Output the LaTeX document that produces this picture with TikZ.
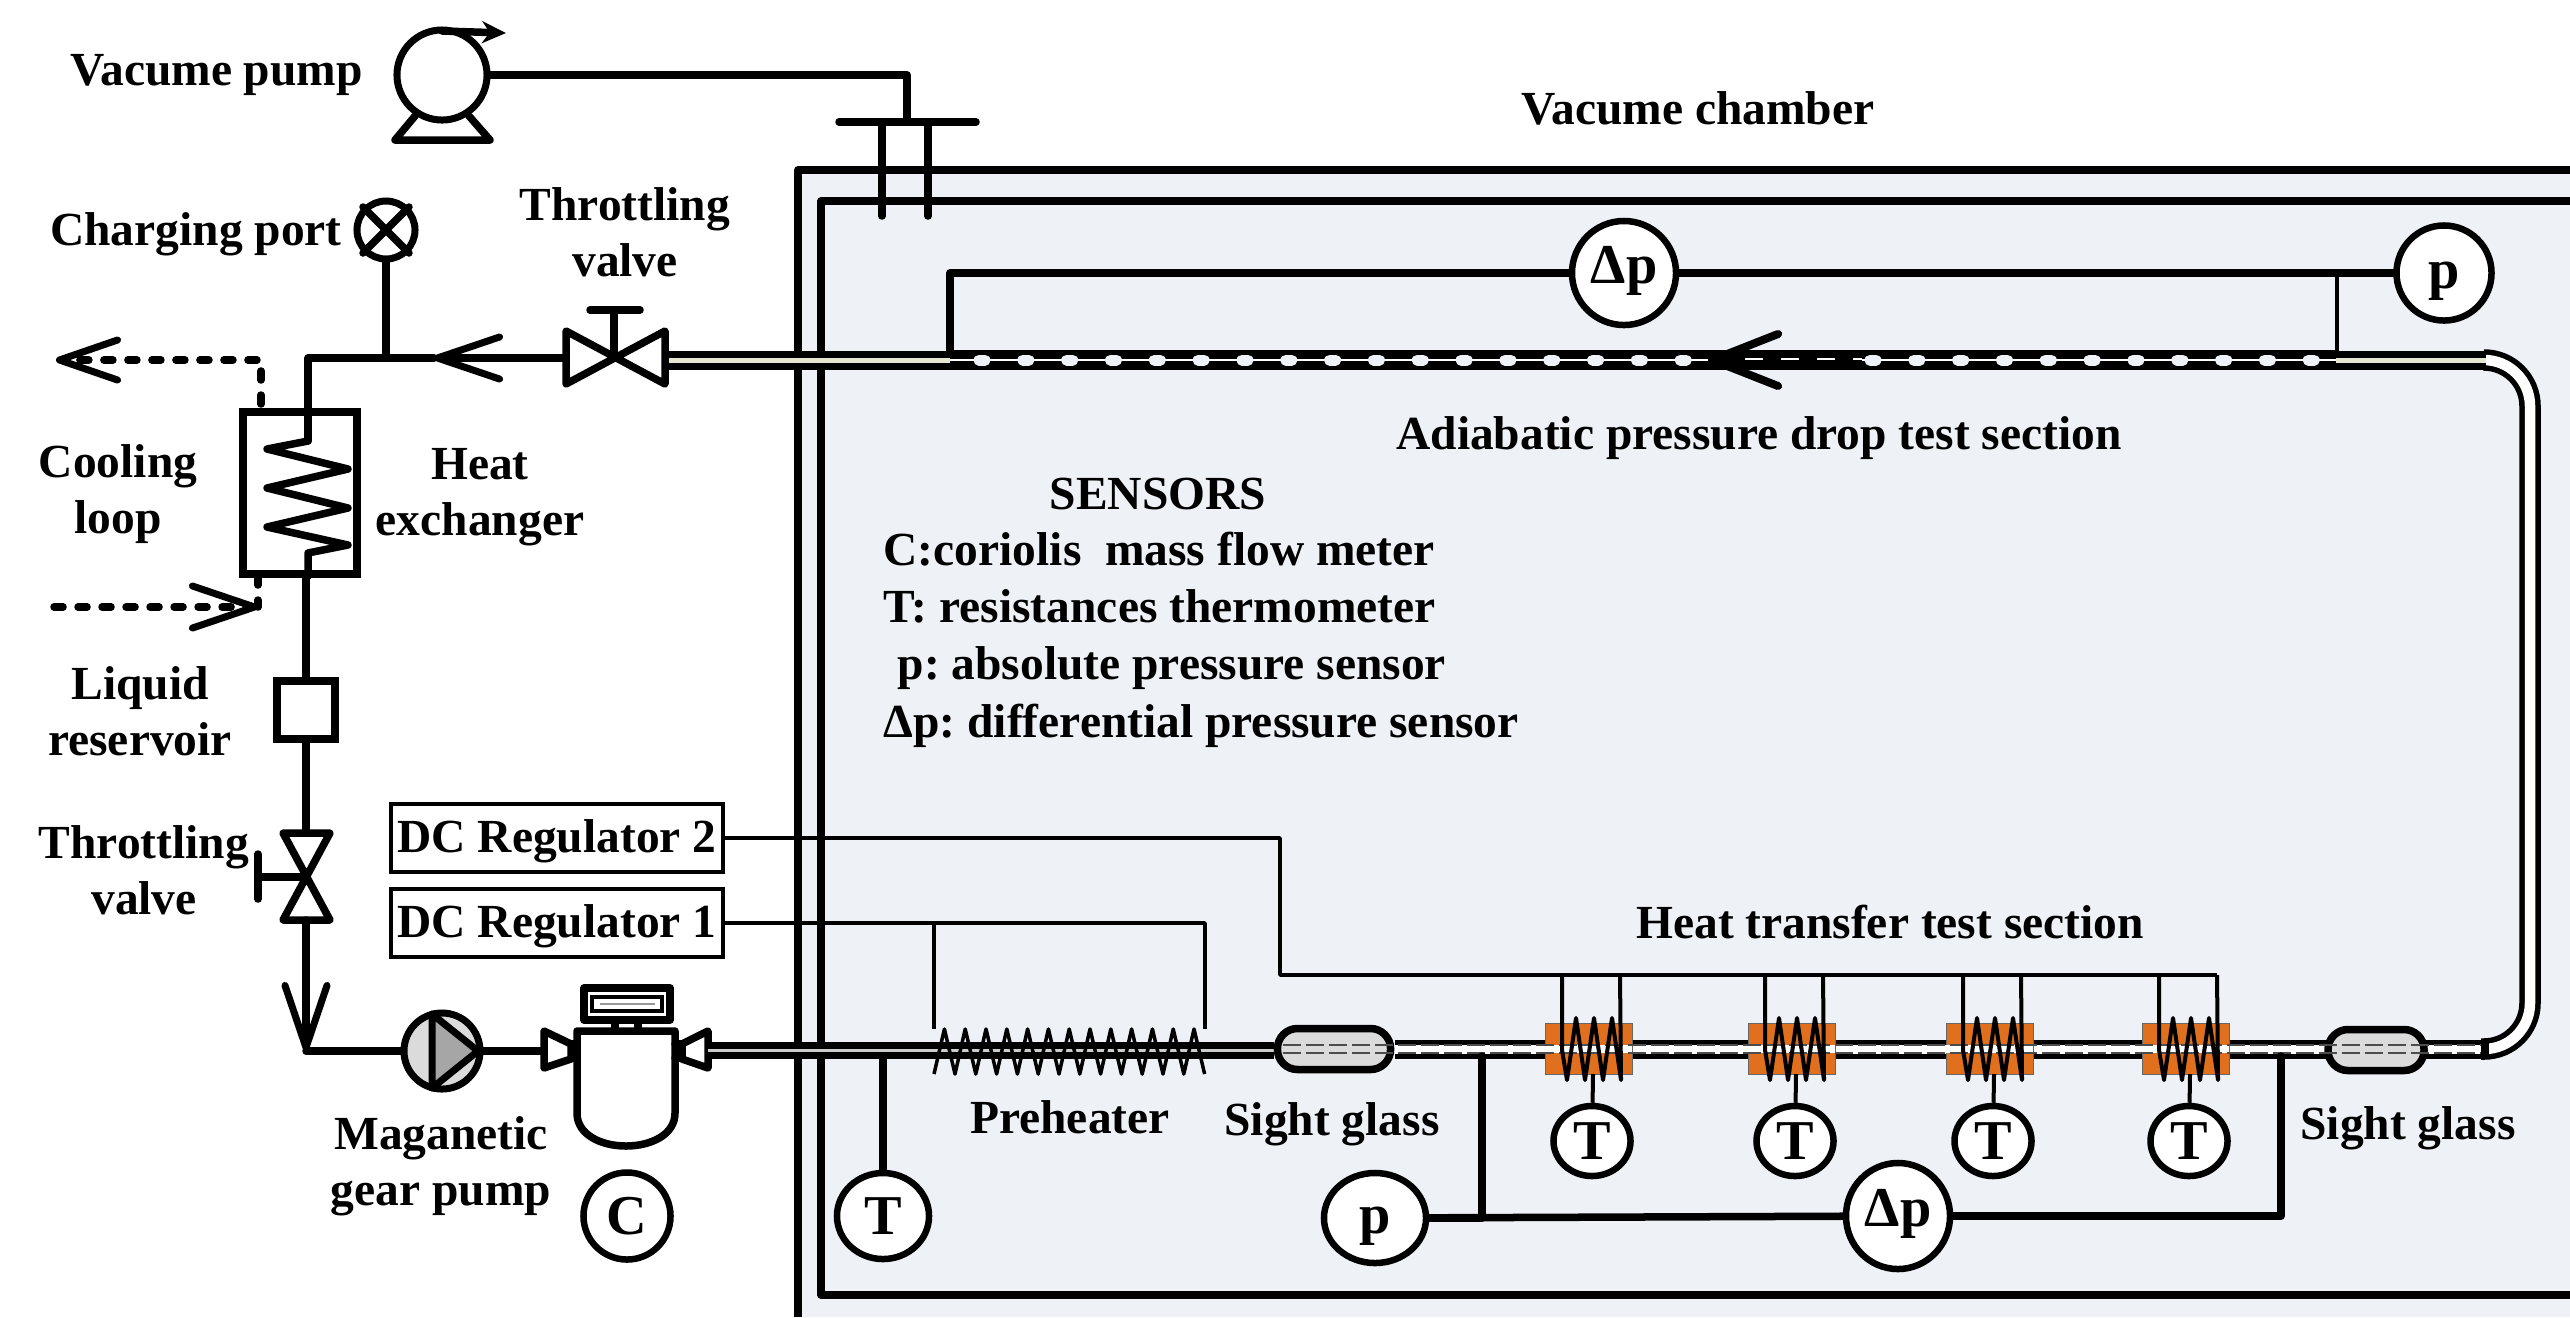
\documentclass[tikz,border=0pt]{standalone}
\usepackage{xcolor}
\usepackage{fontspec}
\setmainfont{Liberation Serif}
\frenchspacing
\usetikzlibrary{arrows.meta,shapes.geometric,positioning}
\definecolor{chamberblue}{HTML}{EEF1F6}
\definecolor{tubebeige}{HTML}{E6E6D2}
\definecolor{heaterorange}{HTML}{E0701E}
\tikzstyle{pipe} = [line width=0.075cm, line join=round, line cap=round]
\tikzstyle{wire} = [line width=0.035cm, line join=round]
\tikzstyle{block} = [rectangle, draw, line width=0.045cm, minimum width=3.32cm, minimum height=0.68cm, inner sep=0pt, text height=9pt, text depth=1pt, font=\bfseries\fontsize{13.5pt}{16pt}\selectfont]
\tikzstyle{lbl} = [inner sep=0pt, align=center, font=\bfseries\fontsize{13.5pt}{16pt}\selectfont]
\tikzstyle{sensor} = [ellipse, draw, fill=white, line width=0.065cm, inner sep=0pt, font=\bfseries\fontsize{16pt}{18pt}\selectfont]
\tikzstyle{glass} = [rectangle, draw, fill=black!14, line width=0.075cm, rounded corners=0.2cm, minimum height=0.41cm]
\tikzstyle{barbtip} = [-{Straight Barb[length=0.62cm,width=0.42cm,line width=0.07cm,round]}]
\begin{document}
\begin{tikzpicture}[x=0.01cm, y=-0.01cm, >=stealth]
	\useasboundingbox (0,0) rectangle (2570,1317);
	% vacuum chamber
	\fill[chamberblue] (798,170) rectangle (2570,1317);
	\draw[pipe, line cap=butt] (2570,170) -- (798,170) -- (798,1317);
	\draw[pipe, line cap=butt] (2570,201) -- (821,201) -- (821,1295) -- (2570,1295);
	\node[lbl] (chamber) at (1698,108) {Vacume chamber};

	% vacuum pump and feedthrough
	\node[circle, draw, line width=0.07cm, minimum size=0.9cm, inner sep=0pt] (vpump) at (442,75) {};
	\node[lbl, left=0.3cm of vpump] (vpumplbl) {Vacume pump};
	\draw[pipe, -{Stealth[length=0.24cm,width=0.22cm]}] (442,31) -- (506,33);
	\draw[pipe] (415,116) -- (395,140) -- (490,140) -- (469,116);
	\coordinate (flange) at (907,122);
	\draw[pipe] (vpump.east) -| (flange);
	\draw[pipe] (839,122) -- (976,122);
	\draw[pipe] (882,122) -- (882,216);
	\draw[pipe] (928,122) -- (928,216);

	% upper tube
	\draw[line width=0.055cm, double=white, double distance=0.105cm, rounded corners=0.46cm] (2481,1049) -- (2530,1049) -- (2530,360) -- (2486,360);
	\draw[line width=0.07cm, double=tubebeige, double distance=0.05cm] (666,360) -- (2486,360);
	\fill[black] (950,350) rectangle (2336,369);
	\draw[white, line width=0.015cm] (950,360) -- (2336,360);
	\draw[chamberblue, line width=0.11cm, line cap=round, dash pattern=on 0.06cm off 0.378cm] (979,360) -- (1700,360);
	\draw[chamberblue, line width=0.11cm, line cap=round, dash pattern=on 0.06cm off 0.378cm] (1870,360) -- (2336,360);
	\draw[line width=0.17cm, -{Straight Barb[length=0.66cm,width=0.52cm,line width=0.08cm,round]}] (1862,360) -- (1708,360);
	\draw[white, line width=0.015cm, dash pattern=on 0.18cm off 0.18cm] (1745,359) -- (1862,359);

	% sensors on the adiabatic section
	\node[sensor, minimum width=1.04cm, minimum height=1.04cm, text height=11pt, text depth=5pt] (dpA) at (1624,273) {Δp};
	\node[sensor, minimum width=0.95cm, minimum height=0.95cm, text height=10pt, text depth=1pt] (pA) at (2444,273) {p};
	\coordinate (inA) at (950,353);
	\coordinate (outA) at (2337,353);
	\draw[pipe] (inA) |- (dpA);
	\draw[pipe] (dpA) -- (pA);
	\draw[wire, line width=0.045cm] (outA) -- (2337,273);
	\node[lbl] (adiab) at (1759,438) {Adiabatic pressure drop test section};

	% legend
	\node[lbl, anchor=base west] (legA) at (1049,509) {SENSORS};
	\node[lbl, anchor=base west] (legB) at (883,565) {C:coriolis\ \ mass flow meter};
	\node[lbl, anchor=base west] (legC) at (883,622) {T: resistances thermometer};
	\node[lbl, anchor=base west] (legD) at (897,679) {p: absolute pressure sensor};
	\node[lbl, anchor=base west] (legE) at (883,737) {Δp: differential pressure sensor};

	% condenser side
	\node[circle, draw, line width=0.07cm, minimum size=0.58cm, inner sep=0pt] (port) at (386,230) {};
	\draw[pipe] (port.45) -- (port.225);
	\draw[pipe] (port.135) -- (port.315);
	\node[lbl, left=0.11cm of port, yshift=-0.04cm] (portlbl) {Charging port};
	\node[lbl] (tv1lbl) at (625,232) {Throttling\\valve};
	\coordinate (tv1) at (614,358);
	\coordinate (split) at (386,358);
	\coordinate (corner) at (308,358);
	\coordinate (mid1) at (434,358);
	\draw[pipe] (566,331) -- (566,384) -- (665,331) -- (665,384) -- cycle;
	\draw[pipe] (tv1) -- (614,310);
	\draw[pipe] (590,310) -- (640,310);
	\draw[pipe, barbtip] (566,358) -- (mid1);
	\draw[pipe] (mid1) -- (corner) -- (308,441);
	\draw[pipe] (port) -- (split);
	% heat exchanger
	\node[rectangle, draw, line width=0.075cm, minimum width=1.14cm, minimum height=1.62cm, inner sep=0pt] (hx) at (300,493) {};
	\draw[pipe] (308,441) -- (267,449) -- (348,469) -- (267,488) -- (348,508) -- (267,527) -- (348,545) -- (308,553) -- (308,576);
	\node[lbl] (hxlbl) at (480,497) {Heat\\exchanger};
	\node[lbl] (coollbl) at (118,494) {Cooling\\loop};
	\draw[pipe, dash pattern=on 0.09cm off 0.15cm, -{Straight Barb[length=0.58cm,width=0.4cm,line width=0.07cm,round]}] (261,404) -- (261,360) -- (56,360);
	\draw[pipe, dash pattern=on 0.09cm off 0.15cm, -{Straight Barb[length=0.62cm,width=0.42cm,line width=0.07cm,round]}] (54,607) -- (258,607);
	\draw[pipe, dash pattern=on 0.09cm off 0.15cm] (258,576) -- (258,607);

	% reservoir and lower valve
	\node[rectangle, draw, line width=0.075cm, minimum width=0.58cm, minimum height=0.58cm, inner sep=0pt] (res) at (306,710) {};
	\node[lbl] (reslbl) at (140,711) {Liquid\\reservoir};
	\draw[pipe] (308,576) -- (306,576) -- (res);
	\coordinate (tv2) at (306,877);
	\draw[pipe] (res) -- (306,833);
	\draw[pipe] (283,833) -- (330,833) -- (283,920) -- (330,920) -- cycle;
	\draw[pipe] (tv2) -- (258,877);
	\draw[pipe] (258,854) -- (258,899);
	\node[lbl] (tv2lbl) at (144,870) {Throttling\\valve};
	\coordinate (bend) at (306,1051);
	\draw[pipe, barbtip] (306,920) -- (bend);

	% gear pump and coriolis meter
	\node[circle, draw, fill=black!14, line width=0.07cm, minimum size=0.76cm, inner sep=0pt] (gpump) at (442,1051) {};
	\filldraw[fill=black!35, line width=0.07cm, line join=round] (432,1014) -- (478,1051) -- (432,1088) -- cycle;
	\draw[pipe] (bend) -- (gpump);
	\node[lbl] (gpumplbl) at (441,1166) {Maganetic\\gear pump};
	\draw[pipe] (gpump) -- (544,1051);
	\draw[pipe, fill=white] (544,1031) -- (544,1068) -- (571,1059) -- (571,1044) -- cycle;
	\draw[pipe, fill=white] (708,1031) -- (708,1068) -- (682,1059) -- (682,1044) -- cycle;
	\draw[pipe, fill=white] (577,1031) -- (675,1031) -- (675,1113) .. controls (675,1157) and (577,1157) .. (577,1113) -- cycle;
	\draw[pipe] (571,1044) -- (577,1044) (571,1058) -- (577,1058);
	\draw[pipe] (675,1044) -- (682,1044) (675,1058) -- (682,1058);
	\draw[pipe] (615,1020) -- (615,1031) (638,1020) -- (638,1031);
	\draw[pipe, fill=white] (584,988) rectangle (670,1020);
	\draw[line width=0.045cm, fill=white] (592,997) rectangle (662,1011);
	\draw[black!40, line width=0.02cm] (600,1004) -- (655,1004);
	\node[sensor, minimum width=0.87cm, minimum height=0.87cm] (C) at (627,1216) {C};

	% regulators
	\node[block] (reg2) at (557,838) {DC Regulator 2};
	\node[block] (reg1) at (557,923) {DC Regulator 1};

	% lower tube
	\draw[line width=0.07cm, double=black!20, double distance=0.03cm] (708,1050) -- (1274,1050);
	\draw[line width=0.05cm, double=white, double distance=0.09cm] (1395,1049) -- (2481,1049);
	\draw[pipe] (2485,1043) -- (2485,1055);
	\coordinate (tapT) at (883,1056);
	\node[sensor, minimum width=0.92cm, minimum height=0.86cm] (Tin) at (883,1216) {T};
	\draw[pipe] (tapT) -- (Tin);
	\node[glass, minimum width=1.13cm] (sg1) at (1334,1049) {};
	\node[glass, minimum width=0.96cm] (sg2) at (2376,1050) {};
	\node[lbl] (sg1lbl) at (1332,1124) {Sight glass};
	\node[lbl] (sg2lbl) at (2408,1128) {Sight glass};

	% heated blocks
	\foreach \wl [count=\n] in {1562,1765,1963,2159} {
		\fill[heaterorange] (\wl-17,1023) rectangle (\wl+70,1074);
		\draw[black!60, line width=0.01cm] (\wl-17,1023) rectangle (\wl+70,1074);
		\fill[white] (\wl-17,1045) rectangle (\wl+70,1053);
	}
	\draw[black!70, line width=0.025cm, dash pattern=on 0.18cm off 0.05cm] (1283,1045) -- (2481,1045);
	\draw[black!70, line width=0.025cm, dash pattern=on 0.18cm off 0.05cm] (1283,1053) -- (2481,1053);

	% preheater
	\draw[wire, line width=0.035cm] (934,1074) \foreach \i in {0,...,12} { -- ({944.4+\i*20.8},1029) -- ({955+\i*20.8},1074) };
	\node[lbl] (prelbl) at (1070,1117) {Preheater};
	\coordinate (preA) at (934,1029);
	\coordinate (preB) at (1205,1029);
	\draw[wire] (reg1.east) -| (preB);
	\draw[wire] (preA) -- (934,923);

	% coils, heater wires and thermometers
	\coordinate (hwire) at (1280,975);
	\draw[wire] (reg2.east) -| (hwire) -- (2217,975);
	\foreach \wl [count=\n] in {1562,1765,1963,2159} {
		\draw[wire, line width=0.04cm] (\wl,975) -- (\wl,1050) -- (\wl+5,1080)
			\foreach \k in {0,1,2} { -- ({\wl+14+\k*18},1018) -- ({\wl+23+\k*18},1080) } -- (\wl+58,975);
		\node[sensor, minimum width=0.77cm, minimum height=0.7cm] (T\n) at (\wl+30,1141) {T};
		\coordinate (hb\n) at (\wl+31,1074);
		\draw[pipe, line cap=butt, line width=0.04cm] (hb\n) -- (T\n);
	}
	\node[lbl] (htlbl) at (1890,922) {Heat transfer test section};

	% lower pressure taps
	\node[sensor, minimum width=1.02cm, minimum height=0.9cm, text height=10pt, text depth=1pt] (pB) at (1375,1218) {p};
	\node[sensor, minimum width=1.04cm, minimum height=1.06cm, text height=11pt, text depth=5pt] (dpB) at (1898,1216) {Δp};
	\coordinate (tapL) at (1482,1056);
	\coordinate (tapR) at (2281,1056);
	\draw[pipe] (tapL) |- (pB);
	\draw[pipe] (pB) -- (dpB);
	\draw[pipe] (tapR) |- (dpB);
\end{tikzpicture}
\end{document}
